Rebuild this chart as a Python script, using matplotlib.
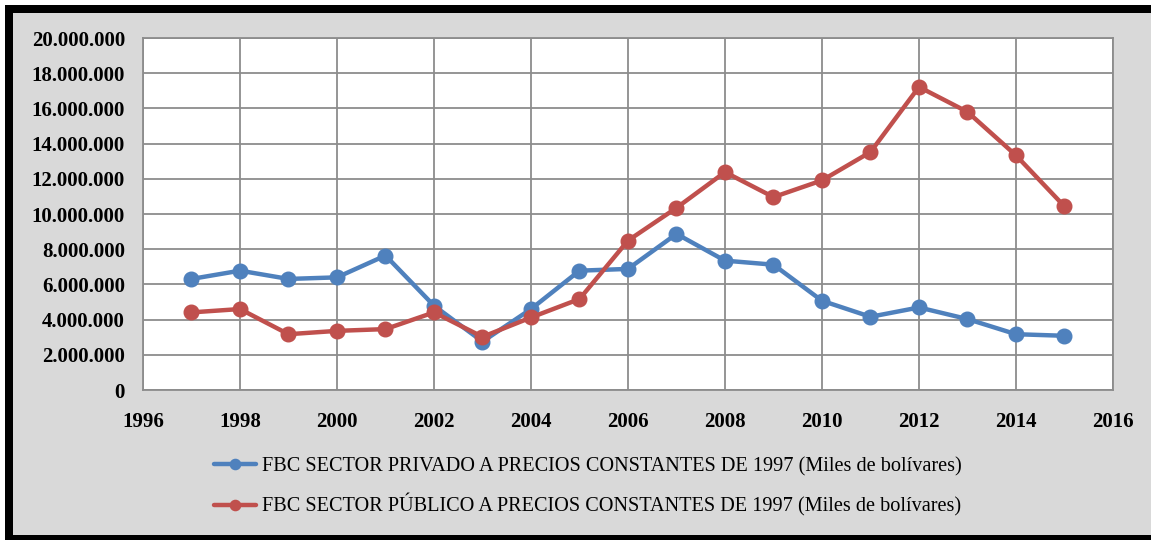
import matplotlib

matplotlib.use("Agg")
import matplotlib.pyplot as plt
from matplotlib.patches import Rectangle
from matplotlib.ticker import FuncFormatter, MultipleLocator

years = list(range(1997, 2016))
privado = [6.31, 6.78, 6.31, 6.40, 7.64, 4.79, 2.75, 4.60, 6.78, 6.88,
           8.87, 7.35, 7.12, 5.07, 4.16, 4.69, 4.03, 3.17, 3.08]
publico = [4.41, 4.60, 3.17, 3.36, 3.46, 4.41, 3.02, 4.12, 5.17, 8.49,
           10.35, 12.38, 10.96, 11.91, 13.52, 17.22, 15.80, 13.33, 10.43]
privado = [v * 1e6 for v in privado]
publico = [v * 1e6 for v in publico]

label_priv = "FBC SECTOR PRIVADO A PRECIOS CONSTANTES DE 1997 (Miles de bolívares)"
label_pub = "FBC SECTOR PÚBLICO A PRECIOS CONSTANTES DE 1997 (Miles de bolívares)"

BLUE = "#4f81bd"
RED = "#c0504d"
GRID = "#8c8c8c"

plt.rcParams["font.family"] = ["Liberation Serif", "DejaVu Serif"]

W, H = 1151, 540
fig = plt.figure(figsize=(W / 100, H / 100), dpi=100)
fig.patch.set_facecolor("#d9d9d9")

# white outer margin + black frame (right edge is cropped in the original)
for x0, y0, w, h, c in [
    (0, H - 5, W, 5, "white"),
    (0, 0, 5, H, "white"),
    (5, H - 13, W - 5, 8, "black"),
    (5, 0, 8, H - 5, "black"),
    (5, 0, W - 5, 5, "black"),
]:
    fig.patches.append(Rectangle((x0 / W, y0 / H), w / W, h / H,
                                 transform=fig.transFigure, facecolor=c,
                                 edgecolor="none", lw=0, zorder=0))

ax = fig.add_axes([143 / W, 1 - 390 / H, (1113 - 143) / W, (390 - 38) / H])
ax.set_facecolor("white")

ax.plot(years, privado, color=BLUE, lw=3.2, marker="o", ms=10.5, label=label_priv,
        solid_capstyle="round", zorder=3)
ax.plot(years, publico, color=RED, lw=3.2, marker="o", ms=10.5, label=label_pub,
        solid_capstyle="round", zorder=3)

ax.set_xlim(1996, 2016)
ax.set_ylim(0, 20e6)
ax.xaxis.set_major_locator(MultipleLocator(2))
ax.yaxis.set_major_locator(MultipleLocator(2e6))
ax.yaxis.set_major_formatter(
    FuncFormatter(lambda v, _: f"{int(round(v)):,}".replace(",", ".")))
ax.grid(True, color=GRID, lw=1.3)
ax.set_axisbelow(True)
for spine in ax.spines.values():
    spine.set_color(GRID)
    spine.set_linewidth(1.3)
ax.tick_params(length=0, labelsize=15)
ax.tick_params(axis="y", pad=13)
ax.tick_params(axis="x", pad=16)
for lab in ax.get_xticklabels() + ax.get_yticklabels():
    lab.set_fontweight("bold")

fig.legend(loc="center", bbox_to_anchor=(588 / W, 1 - 487 / H), frameon=False,
           fontsize=14.6, handlelength=2.1, handletextpad=0.3, labelspacing=0.85,
           markerscale=0.7)

fig.savefig("out.png", dpi=100)
